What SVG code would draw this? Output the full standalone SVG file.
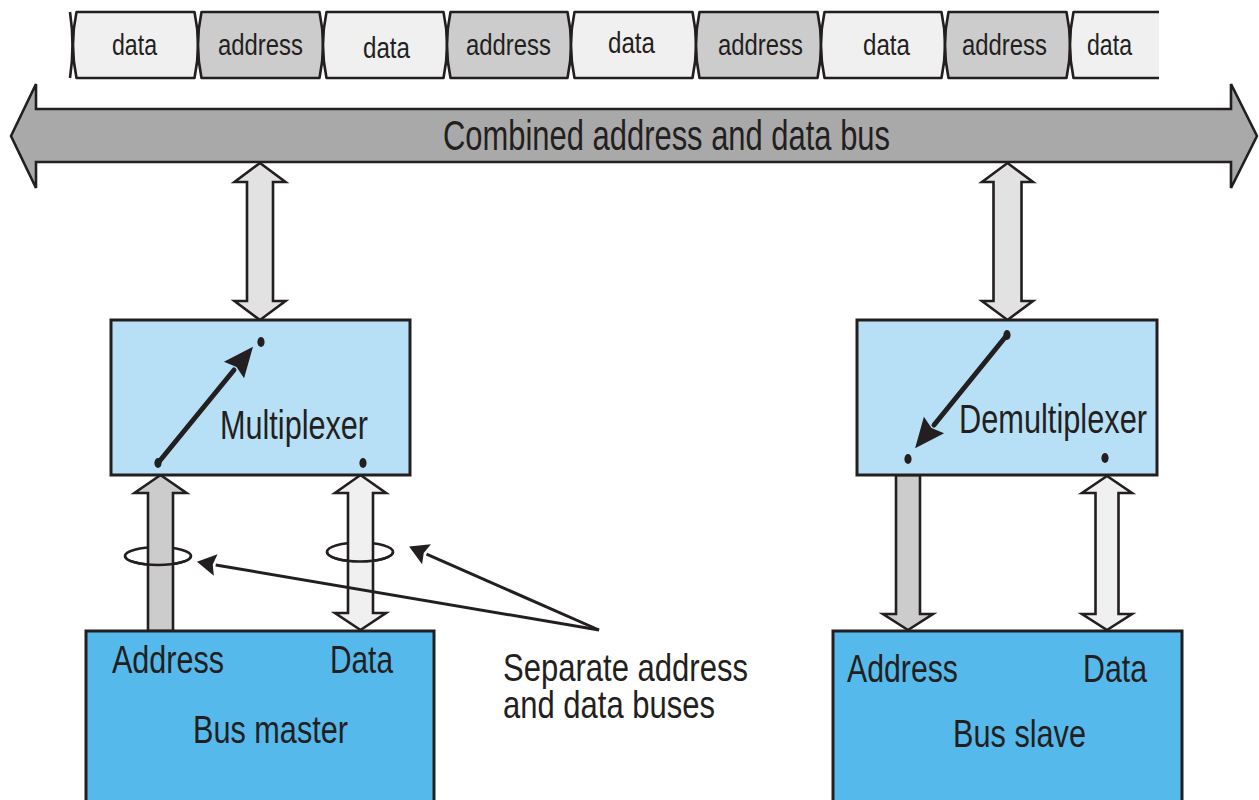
<svg xmlns="http://www.w3.org/2000/svg" width="1259" height="800" viewBox="0 0 1259 800">
  <style>
    text { font-family: "Liberation Sans", Arial, sans-serif; fill: #231f20; }
    .cell { stroke: #231f20; stroke-width: 2.6; stroke-linejoin: round; }
    .data { fill: #f0f0f0; }
    .addr { fill: #cccccc; }
    .t30 { font-size: 30px; }
    .t43 { font-size: 43px; }
    .t40 { font-size: 40px; }
    .t39 { font-size: 39px; }
    .bus { fill: #a9a9a9; stroke: #231f20; stroke-width: 2.6; stroke-linejoin: miter; }
    .fat { stroke: #231f20; stroke-width: 2.6; stroke-linejoin: miter; }
    .light { fill: #e2e2e2; }
    .pale { fill: #f0f0f0; }
    .grey { fill: #cccccc; }
    .mux { fill: #b7e0f7; stroke: #231f20; stroke-width: 3; }
    .unit { fill: #56b9ec; stroke: #231f20; stroke-width: 3; }
    .dot { fill: #231f20; }
    .switch { stroke: #231f20; stroke-width: 5; fill: none; stroke-linecap: round; }
    .pointer { stroke: #231f20; stroke-width: 3; fill: none; }
    .ring { stroke: #231f20; stroke-width: 2.6; fill: none; }
  </style>
  <defs>
    <marker id="switchHead" markerUnits="userSpaceOnUse" orient="auto" refX="0" refY="0" markerWidth="40" markerHeight="40" overflow="visible">
      <path d="M0,-13 L30,0 L0,13 L4,0 Z" fill="#231f20"/>
    </marker>
    <marker id="pointerHead" markerUnits="userSpaceOnUse" orient="auto" refX="0" refY="0" markerWidth="30" markerHeight="30" overflow="visible">
      <path d="M0,-11 L19,0 L0,11 L3,0 Z" fill="#231f20"/>
    </marker>
  </defs>

  <rect width="1259" height="800" fill="#ffffff"/>

  <!-- time-multiplexed bus cycles -->
  <g id="bus-cycles">
    <path class="cell" fill="none" d="M70,12 Q75,45 70,78"/>
    <path class="cell data" d="M76.5,12 L194.5,12 Q201.5,45 194.5,78 L76.5,78 Q69.5,45 76.5,12 Z"/>
    <path class="cell addr" d="M201.5,12 L319.5,12 Q326.5,45 319.5,78 L201.5,78 Q194.5,45 201.5,12 Z"/>
    <path class="cell data" d="M326.5,12 L443.5,12 Q450.5,45 443.5,78 L326.5,78 Q319.5,45 326.5,12 Z"/>
    <path class="cell addr" d="M450.5,12 L567.5,12 Q574.5,45 567.5,78 L450.5,78 Q443.5,45 450.5,12 Z"/>
    <path class="cell data" d="M574.5,12 L692.5,12 Q699.5,45 692.5,78 L574.5,78 Q567.5,45 574.5,12 Z"/>
    <path class="cell addr" d="M699.5,12 L817.5,12 Q824.5,45 817.5,78 L699.5,78 Q692.5,45 699.5,12 Z"/>
    <path class="cell data" d="M824.5,12 L941.5,12 Q948.5,45 941.5,78 L824.5,78 Q817.5,45 824.5,12 Z"/>
    <path class="cell addr" d="M948.5,12 L1066.5,12 Q1073.5,45 1066.5,78 L948.5,78 Q941.5,45 948.5,12 Z"/>
    <path class="data" d="M1073.5,12 L1159,12 L1159,78 L1073.5,78 Q1066.5,45 1073.5,12 Z"/>
    <path class="cell" fill="none" d="M1159,12 L1073.5,12 Q1066.5,45 1073.5,78 L1159,78"/>
    <text class="t30" x="134.5" y="55" text-anchor="middle" textLength="45" lengthAdjust="spacingAndGlyphs">data</text>
    <text class="t30" x="260.5" y="55" text-anchor="middle" textLength="85" lengthAdjust="spacingAndGlyphs">address</text>
    <text class="t30" x="386.5" y="58" text-anchor="middle" textLength="47" lengthAdjust="spacingAndGlyphs">data</text>
    <text class="t30" x="508.5" y="55" text-anchor="middle" textLength="85" lengthAdjust="spacingAndGlyphs">address</text>
    <text class="t30" x="631.5" y="53" text-anchor="middle" textLength="47" lengthAdjust="spacingAndGlyphs">data</text>
    <text class="t30" x="760.5" y="55" text-anchor="middle" textLength="85" lengthAdjust="spacingAndGlyphs">address</text>
    <text class="t30" x="886.5" y="55" text-anchor="middle" textLength="47" lengthAdjust="spacingAndGlyphs">data</text>
    <text class="t30" x="1004.5" y="55" text-anchor="middle" textLength="85" lengthAdjust="spacingAndGlyphs">address</text>
    <text class="t30" x="1109.5" y="55" text-anchor="middle" textLength="45" lengthAdjust="spacingAndGlyphs">data</text>
  </g>

  <!-- shared bus -->
  <g id="combined-bus">
    <polygon class="bus" points="11,136 36,84 36,109 1231,109 1231,84 1257,136 1231,188 1231,162 36,162 36,188"/>
    <text class="t43" x="666.5" y="150" text-anchor="middle" textLength="447" lengthAdjust="spacingAndGlyphs">Combined address and data bus</text>
  </g>

  <!-- bus links: wide block arrows and twisted-wire marks -->
  <g id="connectors">
    <!-- rings behind the shafts -->
    <ellipse class="ring" cx="158" cy="556" rx="33" ry="9"/>
    <ellipse class="ring" cx="360" cy="552" rx="33" ry="9.5"/>

    <!-- bus <-> multiplexer -->
    <polygon class="fat light" points="260,163 285.5,182 273,182 273,301 285.5,301 260,320 234.5,301 247,301 247,182 234.5,182"/>
    <!-- bus <-> demultiplexer -->
    <polygon class="fat light" points="1007.5,163 1033,182 1021.5,182 1021.5,301 1033,301 1007.5,320 982,301 993.5,301 993.5,182 982,182"/>

    <!-- master address -> multiplexer -->
    <polygon class="fat grey" points="160.5,475 186.5,493 173,493 173,631 148,631 148,493 134.5,493"/>
    <!-- master data <-> multiplexer -->
    <polygon class="fat pale" points="360.5,475 386,493 373,493 373,613 386,613 360.5,630 335,613 348,613 348,493 335,493"/>

    <!-- demultiplexer -> slave address -->
    <polygon class="fat grey" points="896,475 920,475 920,614 933,614 908,630 883,614 896,614"/>
    <!-- demultiplexer data <-> slave -->
    <polygon class="fat pale" points="1107,476 1132,493 1118.5,493 1118.5,614 1132,614 1107,630 1082,614 1095.5,614 1095.5,493 1082,493"/>

    <!-- front halves of the rings -->
    <path class="ring" d="M125,556 A33,9 0 0 0 191,556"/>
    <path class="ring" d="M327,552 A33,9.5 0 0 0 393,552"/>

    <!-- callout pointers -->
    <path class="pointer" d="M599,630 L215.7,565" marker-end="url(#pointerHead)"/>
    <path class="pointer" d="M599,630 L426.5,554.2" marker-end="url(#pointerHead)"/>
  </g>

  <g id="multiplexer">
    <rect class="mux" x="111" y="320" width="299" height="155"/>
    <line class="switch" x1="158" y1="463" x2="234" y2="370" marker-end="url(#switchHead)"/>
    <ellipse class="dot" cx="261" cy="342" rx="3.6" ry="5"/>
    <ellipse class="dot" cx="158" cy="463" rx="3.6" ry="5"/>
    <ellipse class="dot" cx="363" cy="463" rx="3.6" ry="5"/>
    <text class="t40" x="220" y="439" textLength="148" lengthAdjust="spacingAndGlyphs">Multiplexer</text>
  </g>

  <g id="demultiplexer">
    <rect class="mux" x="857" y="320" width="300" height="155"/>
    <line class="switch" x1="1007" y1="335" x2="934" y2="425" marker-end="url(#switchHead)"/>
    <ellipse class="dot" cx="1007" cy="335" rx="3.6" ry="5"/>
    <ellipse class="dot" cx="908" cy="459" rx="3.6" ry="5"/>
    <ellipse class="dot" cx="1105" cy="458" rx="3.6" ry="5"/>
    <text class="t40" x="959" y="433" textLength="188" lengthAdjust="spacingAndGlyphs">Demultiplexer</text>
  </g>

  <g id="bus-master">
    <rect class="unit" x="86" y="631" width="348" height="185"/>
    <text class="t39" x="112" y="673" textLength="112" lengthAdjust="spacingAndGlyphs">Address</text>
    <text class="t39" x="330" y="673" textLength="63" lengthAdjust="spacingAndGlyphs">Data</text>
    <text class="t39" x="193" y="743" textLength="155" lengthAdjust="spacingAndGlyphs">Bus master</text>
  </g>

  <g id="bus-slave">
    <rect class="unit" x="833" y="631" width="349" height="185"/>
    <text class="t39" x="847" y="682" textLength="111" lengthAdjust="spacingAndGlyphs">Address</text>
    <text class="t39" x="1083" y="682" textLength="64" lengthAdjust="spacingAndGlyphs">Data</text>
    <text class="t39" x="953" y="747" textLength="133" lengthAdjust="spacingAndGlyphs">Bus slave</text>
  </g>

  <g id="callout">
    <text class="t39" x="503" y="681" textLength="245" lengthAdjust="spacingAndGlyphs">Separate address</text>
    <text class="t39" x="503" y="718" textLength="212" lengthAdjust="spacingAndGlyphs">and data buses</text>
  </g>
</svg>
